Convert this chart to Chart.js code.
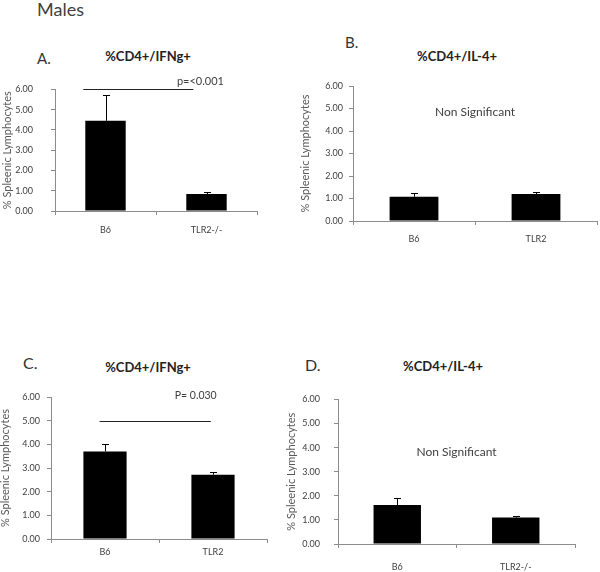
<!DOCTYPE html>
<html>
<head>
<meta charset="utf-8">
<script src="https://cdn.jsdelivr.net/npm/chart.js@4"></script>
<style>
  body { margin: 0; background: #fff; }
  #page { position: relative; width: 600px; height: 572px; font-family: Lato, sans-serif; }
  canvas { position: absolute; }
  .txt { position: absolute; line-height: 1; white-space: nowrap; color: #333; }
  .title { font-weight: bold; font-size: 13px; color: #222; transform: translateX(-50%); }
</style>
</head>
<body>
<div id="page">
  <div class="txt" style="left:37px;top:0px;font-size:18px;color:#404040">Males</div>
  <div class="txt" style="left:37px;top:51px;font-size:15px">A.</div>
  <div class="txt" style="left:345px;top:35px;font-size:15px">B.</div>
  <div class="txt" style="left:23px;top:355px;font-size:16px">C.</div>
  <div class="txt" style="left:305px;top:357px;font-size:16px">D.</div>
  <div class="txt title" style="left:148px;top:50px">%CD4+/IFNg+</div>
  <div class="txt title" style="left:457px;top:50px">%CD4+/IL-4+</div>
  <div class="txt title" style="left:148px;top:361px">%CD4+/IFNg+</div>
  <div class="txt title" style="left:443px;top:360px">%CD4+/IL-4+</div>

  <canvas id="chartA" width="262" height="174" style="left:0px;top:66px"></canvas>
  <canvas id="chartB" width="300" height="184" style="left:300px;top:66px"></canvas>
  <canvas id="chartC" width="272" height="192" style="left:0px;top:380px"></canvas>
  <canvas id="chartD" width="300" height="192" style="left:282px;top:380px"></canvas>
</div>
<script>
// values
const categoriesA = ['B6', 'TLR2-/-'];
const valuesA = [4.45, 0.84];
const errorsA = [1.25, 0.11];

const categoriesB = ['B6', 'TLR2'];
const valuesB = [1.08, 1.20];
const errorsB = [0.16, 0.10];

const categoriesC = ['B6', 'TLR2'];
const valuesC = [3.70, 2.72];
const errorsC = [0.32, 0.12];

const categoriesD = ['B6', 'TLR2-/-'];
const valuesD = [1.62, 1.10];
const errorsD = [0.28, 0.05];

const yMin = 0, yMax = 6, yStep = 1;
const yTitle = '% Spleenic Lymphocytes';

// upward error bars with a small cap
const errorBars = {
  id: 'errorBars',
  afterDatasetsDraw(chart) {
    const errs = chart.options.plugins.errorBars.errors;
    const ctx = chart.ctx;
    const y = chart.scales.y;
    chart.getDatasetMeta(0).data.forEach((bar, i) => {
      const top = y.getPixelForValue(chart.data.datasets[0].data[i] + errs[i]);
      ctx.save();
      ctx.strokeStyle = '#000';
      ctx.lineWidth = 1;
      ctx.beginPath();
      ctx.moveTo(Math.round(bar.x) + 0.5, bar.y);
      ctx.lineTo(Math.round(bar.x) + 0.5, Math.round(top) + 0.5);
      ctx.moveTo(Math.round(bar.x) - 3, Math.round(top) + 0.5);
      ctx.lineTo(Math.round(bar.x) + 4, Math.round(top) + 0.5);
      ctx.stroke();
      ctx.restore();
    });
  }
};

// significance line and notes, placed in data units
const notes = {
  id: 'notes',
  afterDraw(chart) {
    const o = chart.options.plugins.notes;
    const ctx = chart.ctx;
    const x = chart.scales.x, y = chart.scales.y;
    ctx.save();
    if (o.line) {
      const ly = Math.round(y.getPixelForValue(o.line.y)) + 0.5;
      ctx.strokeStyle = '#222';
      ctx.lineWidth = 1;
      ctx.beginPath();
      ctx.moveTo(x.getPixelForValue(o.line.from), ly);
      ctx.lineTo(x.getPixelForValue(o.line.to), ly);
      ctx.stroke();
    }
    if (o.text) {
      ctx.fillStyle = '#404040';
      ctx.font = o.text.size + 'px Lato';
      ctx.textAlign = 'center';
      ctx.textBaseline = 'middle';
      ctx.fillText(o.text.label, x.getPixelForValue(o.text.x), y.getPixelForValue(o.text.y));
    }
    ctx.restore();
  }
};

function makeChart(id, labels, values, errors, lay, noteOpts) {
  new Chart(document.getElementById(id), {
    type: 'bar',
    data: {
      labels: labels,
      datasets: [{
        data: values,
        backgroundColor: '#000',
        borderWidth: 0,
        barPercentage: 0.4,
        categoryPercentage: 1
      }]
    },
    options: {
      responsive: false,
      animation: false,
      events: [],
      layout: { padding: { top: lay.padTop, right: lay.padRight, left: 0, bottom: 0 } },
      plugins: {
        legend: { display: false },
        tooltip: { enabled: false },
        errorBars: { errors: errors },
        notes: noteOpts
      },
      scales: {
        x: {
          offset: true,
          grid: { offset: true, drawOnChartArea: false, drawTicks: true, tickLength: 4, color: '#8c8c8c' },
          border: { color: '#8c8c8c' },
          ticks: { padding: lay.xPad, color: '#404040', font: { family: 'Lato', size: 9 }, maxRotation: 0 },
          afterFit: s => { s.height = lay.xHeight; }
        },
        y: {
          min: yMin,
          max: yMax,
          grid: { drawOnChartArea: false, drawTicks: true, tickLength: 4, color: '#8c8c8c' },
          border: { color: '#8c8c8c' },
          ticks: {
            stepSize: yStep,
            padding: lay.yPad,
            color: '#404040',
            font: { family: 'Lato', size: 9 },
            callback: v => v.toFixed(2)
          },
          title: {
            display: true,
            text: yTitle,
            color: '#595959',
            font: { family: 'Lato', size: 11, lineHeight: 1 },
            padding: { top: lay.titlePad, bottom: 0 }
          },
          afterFit: s => { s.width = lay.yWidth; }
        }
      }
    },
    plugins: [errorBars, notes]
  });
}

makeChart('chartA', categoriesA, valuesA, errorsA,
  { padTop: 20, padRight: 5, yWidth: 55, xHeight: 29, yPad: 18, xPad: 10, titlePad: 1.5 },
  { line: { from: -0.22, to: 0.87, y: 6 }, text: { label: 'p=<0.001', x: 0.94, y: 6.38, size: 11 } });

makeChart('chartB', categoriesB, valuesB, errorsB,
  { padTop: 20, padRight: 3, yWidth: 53, xHeight: 29, yPad: 6, xPad: 9, titlePad: 0 },
  { text: { label: 'Non Significant', x: 0.5, y: 4.84, size: 12 } });

makeChart('chartC', categoriesC, valuesC, errorsC,
  { padTop: 17, padRight: 5, yWidth: 51, xHeight: 33, yPad: 7, xPad: 4, titlePad: 0 },
  { line: { from: -0.05, to: 0.98, y: 5 }, text: { label: 'P= 0.030', x: 0.84, y: 6.04, size: 10.5 } });

makeChart('chartD', categoriesD, valuesD, errorsD,
  { padTop: 14, padRight: 7, yWidth: 56, xHeight: 28, yPad: 14, xPad: 14, titlePad: 3.5 },
  { text: { label: 'Non Significant', x: 0.5, y: 3.8, size: 12 } });
</script>
</body>
</html>
